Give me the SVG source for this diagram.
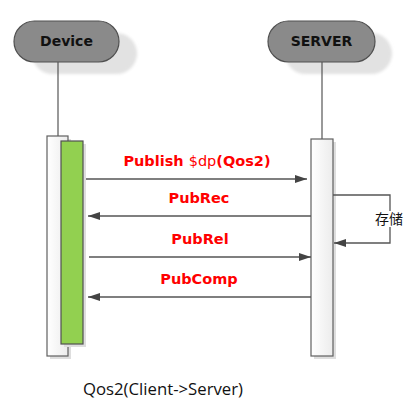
<svg xmlns="http://www.w3.org/2000/svg" width="409" height="404" viewBox="0 0 409 404">
<defs>
<linearGradient id="boxg" x1="0" y1="0" x2="1" y2="0">
<stop offset="0" stop-color="#ffffff"/>
<stop offset="1" stop-color="#ececec"/>
</linearGradient>
<filter id="blur" x="-20%" y="-20%" width="140%" height="140%"><feGaussianBlur stdDeviation="1.5"/></filter>
<marker id="ah" viewBox="0 0 12 8" refX="12" refY="4" markerWidth="12" markerHeight="8" markerUnits="userSpaceOnUse" orient="auto">
<path d="M0,0 L12,4 L0,8 Z" fill="#444"/>
</marker>
<style>
.pill{fill:#8a8a8a;stroke:#505050;stroke-width:1.2}
.shadow{fill:#e2e2e2}
.ptxt{font-family:"DejaVu Sans",sans-serif;font-weight:bold;font-size:14px;fill:#111;text-anchor:middle}
.life{stroke:#555;stroke-width:1.2;fill:none}
.box{fill:url(#boxg);stroke:#606060;stroke-width:1.2}
.bshadow{fill:#dedede}
.act{fill:#92d050;stroke:#505050;stroke-width:1.2}
.msg{stroke:#555;stroke-width:1.3;fill:none}
.lbl{font-family:"DejaVu Sans",sans-serif;font-weight:bold;font-size:14.5px;fill:#ff0000;text-anchor:middle}
</style>
</defs>
<g id="device">
<rect class="shadow" x="32" y="33" width="105" height="41" rx="20.5" filter="url(#blur)"/>
<rect class="pill" x="14" y="21" width="105" height="41" rx="20.5"/>
<text class="ptxt" x="66.5" y="46">Device</text>
<line class="life" x1="58" y1="62" x2="58" y2="136"/>
<rect class="bshadow" x="50" y="139" width="21" height="220"/>
<rect class="box" x="47" y="136" width="21" height="220"/>
<rect class="bshadow" x="64" y="144" width="22" height="203"/>
<rect class="act" x="61" y="141" width="22" height="203"/>
</g>
<g id="server">
<rect class="shadow" x="285" y="33" width="107" height="41" rx="20.5" filter="url(#blur)"/>
<rect class="pill" x="268" y="21" width="107" height="41" rx="20.5"/>
<text class="ptxt" x="321.5" y="46">SERVER</text>
<line class="life" x1="322" y1="62" x2="322" y2="139"/>
<rect class="bshadow" x="314" y="142" width="22" height="217"/>
<rect class="box" x="311" y="139" width="22" height="217"/>
</g>
<g id="connectors">
<line class="msg" x1="86" y1="179" x2="307" y2="179" marker-end="url(#ah)"/>
<line class="msg" x1="311" y1="216" x2="88" y2="216" marker-end="url(#ah)"/>
<line class="msg" x1="89" y1="257" x2="311" y2="257" marker-end="url(#ah)"/>
<line class="msg" x1="311" y1="297" x2="88" y2="297" marker-end="url(#ah)"/>
<polyline class="msg" points="333,195 390,195 390,211"/>
<polyline class="msg" points="390,227 390,243 334,243" marker-end="url(#ah)"/>
</g>
<g id="labels">
<text class="lbl" x="197" y="166">Publish <tspan font-weight="normal">$dp</tspan>(Qos2)</text>
<text class="lbl" x="199" y="203">PubRec</text>
<text class="lbl" x="200" y="244">PubRel</text>
<text class="lbl" x="199" y="284">PubComp</text>
<text x="389" y="224" font-family="'Noto Sans CJK SC',sans-serif" font-size="14" fill="#111" text-anchor="middle">存储</text>
<text x="83" y="395" font-family="'Open Sans',sans-serif" font-size="16" fill="#111" textLength="160" lengthAdjust="spacingAndGlyphs">Qos2(Client-&gt;Server)</text>
</g>
</svg>
